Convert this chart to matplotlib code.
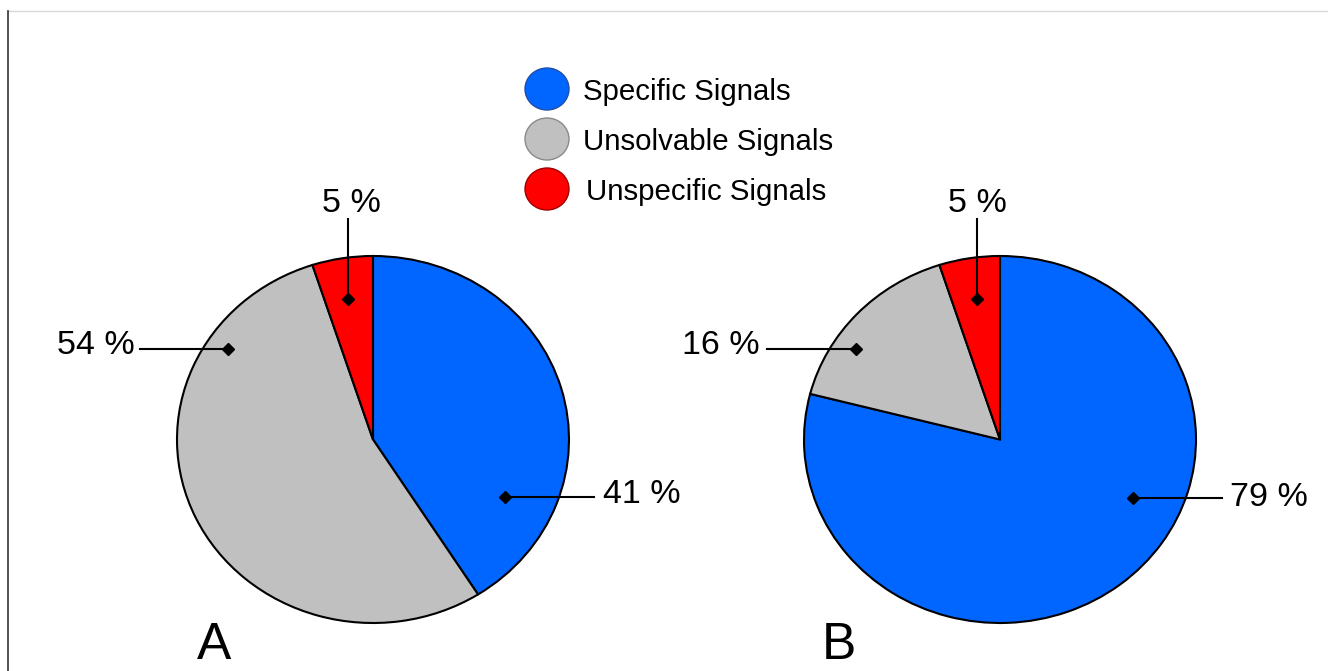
import matplotlib.pyplot as plt
from matplotlib.patches import Ellipse
from matplotlib.lines import Line2D

plt.rcParams['font.family'] = ['Liberation Sans', 'DejaVu Sans']

# data
categories = ['Specific Signals', 'Unsolvable Signals', 'Unspecific Signals']
values_a = [41, 54, 5]
values_b = [79, 16, 5]
colors = ['#0066FF', '#C0C0C0', '#FF0000']
edge_colors = ['#1f4fa8', '#8a8a8a', '#a00000']

W, H = 1328, 671
fig = plt.figure(figsize=(W / 100, H / 100), dpi=100)


def pie_axes(cx, cy, rx, ry):
    # pixel box -> figure fraction, y measured from the top
    ax = fig.add_axes([(cx - rx) / W, (H - cy - ry) / H, 2 * rx / W, 2 * ry / H])
    ax.axis('off')
    return ax


for vals, cx in [(values_a, 373), (values_b, 1000)]:
    ax = pie_axes(cx, 439.5, 196, 183.5)
    wedges, _ = ax.pie(vals, colors=colors, startangle=90, counterclock=False,
                       radius=1, wedgeprops=dict(edgecolor='black', linewidth=1.5))
    for w in wedges:
        w.set_clip_on(False)
    ax.set_xlim(-1, 1)
    ax.set_ylim(-1, 1)
    ax.set_aspect('auto')

# overlay in pixel coordinates for labels, legend and frame
ov = fig.add_axes([0, 0, 1, 1])
ov.set_xlim(0, W)
ov.set_ylim(H, 0)
ov.axis('off')
ov.patch.set_alpha(0)

# callouts: (text, text x, baseline, ha, line from -> diamond)
callouts = [
    (f'{values_a[2]} %', 351, 212, 'center', [(348, 219), (348, 299)]),
    (f'{values_a[1]} %', 135, 354, 'right', [(140, 349), (228, 349)]),
    (f'{values_a[0]} %', 603, 503, 'left', [(594, 497), (505, 497)]),
    (f'{values_b[2]} %', 977, 212, 'center', [(977, 219), (977, 299)]),
    (f'{values_b[1]} %', 760, 354, 'right', [(767, 349), (856, 349)]),
    (f'{values_b[0]} %', 1230, 506, 'left', [(1222, 498), (1133, 498)]),
]
for txt, tx, ty, ha, pts in callouts:
    (x0, y0), (x1, y1) = pts
    ov.plot([x0, x1], [y0, y1], color='black', lw=1.5)
    ov.plot([x1], [y1], marker='D', ms=6, color='black')
    ov.text(tx, ty, txt, ha=ha, va='baseline', fontsize=24.5, color='black')

ov.text(214, 659, 'A', ha='center', va='baseline', fontsize=37)
ov.text(839, 659, 'B', ha='center', va='baseline', fontsize=37)

# legend
for i, (lab, c, ec) in enumerate(zip(categories, colors, edge_colors)):
    y = 89 + 50 * i
    ov.add_patch(Ellipse((547, y), 44, 42, facecolor=c, edgecolor=ec, lw=1))
    ov.text(583 + (3 if i == 2 else 0), y, lab, ha='left', va='center_baseline',
            fontsize=21.2, color='black')

# frame lines
fig.add_artist(Line2D([8 / W, 1], [1 - 11 / H, 1 - 11 / H], color='#d9d9d9', lw=1))
fig.add_artist(Line2D([8 / W, 8 / W], [0, 1 - 11 / H], color='#333333', lw=1.2))

fig.savefig('out.png', dpi=100)
